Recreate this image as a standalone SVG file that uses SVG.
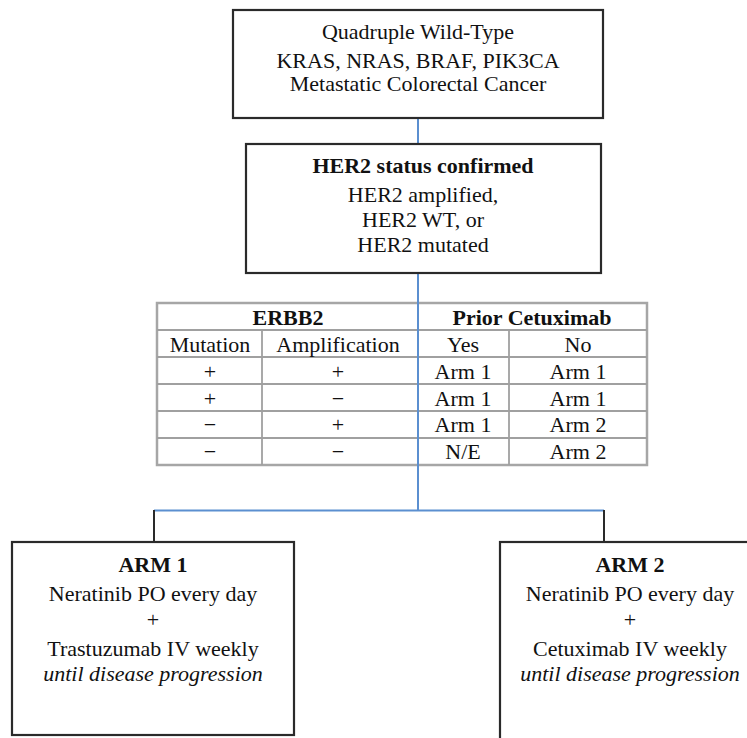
<svg xmlns="http://www.w3.org/2000/svg" width="747" height="738" viewBox="0 0 747 738">
<style>
text{font-family:"Liberation Serif","Times New Roman",serif;font-size:22px;fill:#111;text-anchor:middle}
.b{font-weight:bold}
.i{font-style:italic}
.box{fill:#fff;stroke:#2a2a2a;stroke-width:2.2}
.tb{fill:none;stroke:#a6a6a6;stroke-width:2.5}
.tl{stroke:#a0a0a0;stroke-width:1.8}
.blue{stroke:#5b8fd0;stroke-width:2;fill:none}
.drop{stroke:#2a2a2a;stroke-width:2;fill:none}
</style>
<rect width="747" height="738" fill="#fff"/>
<g id="table">
<rect class="tb" x="157" y="303" width="490" height="162"/>
<line class="tl" x1="157" y1="330" x2="647" y2="330"/>
<line class="tl" x1="157" y1="357" x2="647" y2="357"/>
<line class="tl" x1="157" y1="384" x2="647" y2="384"/>
<line class="tl" x1="157" y1="411" x2="647" y2="411"/>
<line class="tl" x1="157" y1="438" x2="647" y2="438"/>
<line class="tl" x1="262" y1="330" x2="262" y2="465"/>
<line class="tl" x1="418" y1="303" x2="418" y2="465"/>
<line class="tl" x1="509" y1="330" x2="509" y2="465"/>
<text class="b" x="288" y="325">ERBB2</text>
<text class="b" x="532" y="325">Prior Cetuximab</text>
<text x="210" y="352">Mutation</text>
<text x="338" y="352">Amplification</text>
<text x="463" y="352">Yes</text>
<text x="578" y="352">No</text>
<text x="210" y="379">+</text><text x="338" y="379">+</text><text x="463" y="379">Arm 1</text><text x="578" y="379">Arm 1</text>
<text x="210" y="406">+</text><text x="338" y="406">−</text><text x="463" y="406">Arm 1</text><text x="578" y="406">Arm 1</text>
<text x="210" y="432">−</text><text x="338" y="432">+</text><text x="463" y="432">Arm 1</text><text x="578" y="432">Arm 2</text>
<text x="210" y="459">−</text><text x="338" y="459">−</text><text x="463" y="459">N/E</text><text x="578" y="459">Arm 2</text>
</g>
<g id="connectors">
<line class="blue" x1="418" y1="118" x2="418" y2="144"/>
<path class="blue" d="M418 273 V510.5 M154 510.5 H604"/>
<path class="drop" d="M154 510 V542"/>
<path class="drop" d="M604 510 V542"/>
</g>
<g id="top">
<rect class="box" x="233" y="10" width="370" height="108"/>
<text x="418" y="39">Quadruple Wild-Type</text>
<text x="418" y="68">KRAS, NRAS, BRAF, PIK3CA</text>
<text x="418" y="91">Metastatic Colorectal Cancer</text>
</g>
<g id="her2">
<rect class="box" x="246" y="144" width="355" height="129"/>
<text class="b" x="423" y="173">HER2 status confirmed</text>
<text x="423" y="202">HER2 amplified,</text>
<text x="423" y="227">HER2 WT, or</text>
<text x="423" y="252">HER2 mutated</text>
</g>
<g id="arm1">
<rect class="box" x="12" y="542" width="282" height="193"/>
<text class="b" x="153" y="572">ARM 1</text>
<text x="153" y="601">Neratinib PO every day</text>
<text x="153" y="627">+</text>
<text x="153" y="656">Trastuzumab IV weekly</text>
<text class="i" x="153" y="681">until disease progression</text>
</g>
<g id="arm2">
<rect class="box" x="500" y="542" width="262" height="205"/>
<text class="b" x="630" y="572">ARM 2</text>
<text x="630" y="601">Neratinib PO every day</text>
<text x="630" y="627">+</text>
<text x="630" y="656">Cetuximab IV weekly</text>
<text class="i" x="630" y="681">until disease progression</text>
</g>
</svg>
